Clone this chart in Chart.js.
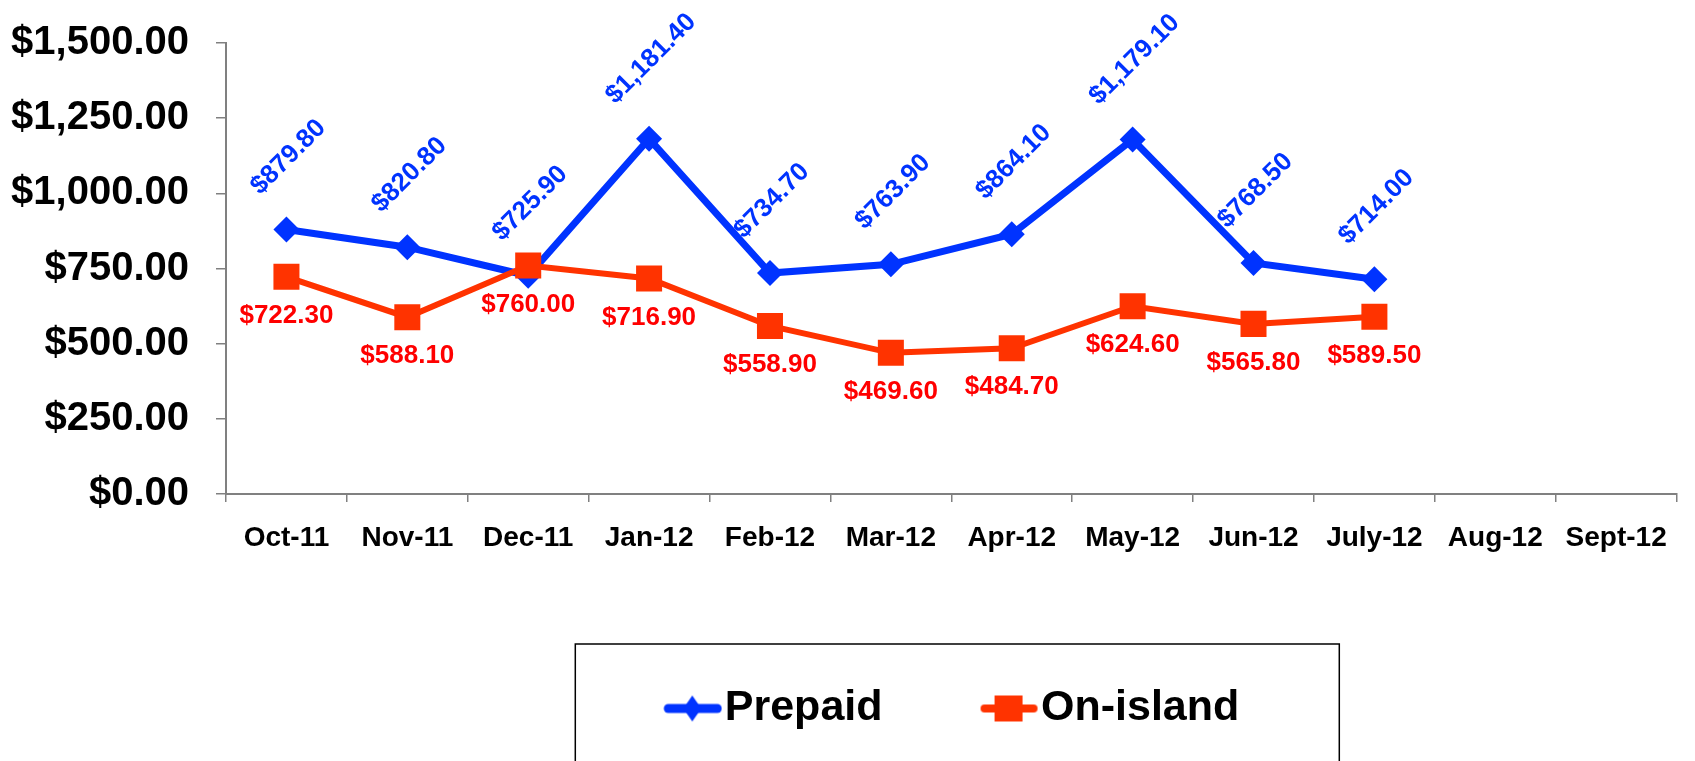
<!DOCTYPE html>
<html>
<head>
<meta charset="utf-8">
<script src="https://cdn.jsdelivr.net/npm/chart.js@4/dist/chart.umd.min.js"></script>
<style>
  html, body { margin: 0; padding: 0; background: #fff; overflow: hidden; }
  #wrap { position: relative; width: 1695px; height: 761px; }
</style>
</head>
<body>
<div id="wrap"><canvas id="priceChart"></canvas></div>
<script>
// chart data
const months = ['Oct-11', 'Nov-11', 'Dec-11', 'Jan-12', 'Feb-12', 'Mar-12', 'Apr-12', 'May-12', 'Jun-12', 'July-12', 'Aug-12', 'Sept-12'];
const prepaid = [879.80, 820.80, 725.90, 1181.40, 734.70, 763.90, 864.10, 1179.10, 768.50, 714.00];
const onIsland = [722.30, 588.10, 760.00, 716.90, 558.90, 469.60, 484.70, 624.60, 565.80, 589.50];
const yRange = [0, 1500];
const yStep = 250;

const BLUE = '#0033FF';
const ORANGE = '#FF3300';
const RED = '#FF0000';
const AXIS = '#808080';
const FONT = '"Liberation Sans", Arial, Helvetica, sans-serif';

function money(v) {
    return '$' + Number(v).toLocaleString('en-US', { minimumFractionDigits: 2, maximumFractionDigits: 2 });
}

// legend icons: a short line with the marker in the middle,
// drawn in the right part of the image so it sits just before the text
function makeIcon(color, lineW, shape) {
    const c = document.createElement('canvas');
    c.width = 78; c.height = 30;
    const g = c.getContext('2d');
    g.strokeStyle = color; g.fillStyle = color;
    g.lineWidth = lineW; g.lineCap = 'round';
    g.beginPath(); g.moveTo(24, 15); g.lineTo(73, 15); g.stroke();
    g.beginPath();
    if (shape === 'diamond') {
        g.moveTo(48, 2); g.lineTo(57, 15); g.lineTo(48, 28); g.lineTo(39, 15);
    } else {
        g.rect(34, 2, 28, 26);
    }
    g.closePath(); g.fill();
    return c;
}
const icons = [makeIcon(BLUE, 9, 'diamond'), makeIcon(ORANGE, 8, 'square')];

// value labels: blue rotated above the points, red flat below
const valueLabels = {
    id: 'valueLabels',
    afterDatasetsDraw(chart) {
        const ctx = chart.ctx;
        ctx.save();
        ctx.font = 'bold 26px ' + FONT;
        ctx.textAlign = 'center';
        ctx.textBaseline = 'middle';
        chart.data.datasets.forEach((ds, di) => {
            const meta = chart.getDatasetMeta(di);
            meta.data.forEach((pt, i) => {
                const v = ds.data[i];
                if (v == null) return;
                const txt = money(v);
                if (di === 0) {
                    const tw = ctx.measureText(txt).width;
                    ctx.save();
                    ctx.translate(pt.x + 2, pt.y - (39 + tw * 0.354));
                    ctx.rotate(-Math.PI / 4);
                    ctx.fillStyle = BLUE;
                    ctx.fillText(txt, 0, 0);
                    ctx.restore();
                } else {
                    ctx.fillStyle = RED;
                    ctx.fillText(txt, pt.x, pt.y + 39);
                }
            });
        });
        ctx.restore();
    }
};

// open box around the legend (it runs off the bottom like the original)
const legendFrame = {
    id: 'legendFrame',
    afterDraw(chart) {
        const lg = chart.legend;
        if (!lg) return;
        const ctx = chart.ctx;
        const cx = (lg.left + lg.right) / 2 + 6;
        ctx.save();
        ctx.strokeStyle = '#000';
        ctx.lineWidth = 1.5;
        ctx.strokeRect(cx - 382, lg.top + 54, 764, 300);
        ctx.restore();
    }
};

const ctx = document.getElementById('priceChart').getContext('2d');
new Chart(ctx, {
    type: 'line',
    data: {
        labels: months,
        datasets: [{
            label: 'Prepaid',
            data: prepaid,
            borderColor: BLUE,
            backgroundColor: BLUE,
            borderWidth: 7,
            pointStyle: 'rectRot',
            pointRadius: 13,
            pointBorderWidth: 0,
            tension: 0,
            order: 2
        }, {
            label: 'On-island',
            data: onIsland,
            borderColor: ORANGE,
            backgroundColor: ORANGE,
            borderWidth: 6,
            pointStyle: 'rect',
            pointRadius: 18.4,
            pointBorderWidth: 0,
            tension: 0,
            order: 1
        }]
    },
    options: {
        responsive: true,
        maintainAspectRatio: false,
        animation: false,
        layout: {
            padding: { top: 43, left: 11, right: -9, bottom: 21 }
        },
        scales: {
            y: {
                min: yRange[0],
                max: yRange[1],
                border: { display: true, color: AXIS, width: 2 },
                grid: { drawOnChartArea: false, drawTicks: true, tickLength: 10, color: AXIS, lineWidth: 1.5 },
                ticks: {
                    stepSize: yStep,
                    padding: 27,
                    color: '#000',
                    font: { family: FONT, size: 40, weight: 'bold' },
                    callback: (v) => money(v)
                },
                afterFit: (scale) => { scale.width = 215; scale.paddingTop = 0; scale.paddingBottom = 0; }
            },
            x: {
                offset: true,
                border: { display: true, color: AXIS, width: 2 },
                grid: { offset: true, drawOnChartArea: false, drawTicks: true, tickLength: 8, color: AXIS, lineWidth: 1.5 },
                ticks: {
                    padding: 4,
                    color: '#000',
                    maxRotation: 0,
                    autoSkip: false,
                    font: { family: FONT, size: 28, weight: 'bold', lineHeight: 2.286 }
                },
                afterFit: (scale) => { scale.height = 96; scale.paddingLeft = 0; scale.paddingRight = 0; }
            }
        },
        plugins: {
            legend: {
                position: 'bottom',
                fullSize: false,
                labels: {
                    usePointStyle: true,
                    pointStyleWidth: 40,
                    padding: 97,
                    color: '#000',
                    font: { family: FONT, size: 43, weight: 'bold' },
                    sort: (a, b) => a.datasetIndex - b.datasetIndex,
                    generateLabels: function (chart) {
                        const items = Chart.defaults.plugins.legend.labels.generateLabels(chart);
                        items.forEach(it => { it.pointStyle = icons[it.datasetIndex]; it.rotation = 0; });
                        return items;
                    }
                }
            },
            tooltip: { enabled: false }
        }
    },
    plugins: [valueLabels, legendFrame]
});
</script>
</body>
</html>
